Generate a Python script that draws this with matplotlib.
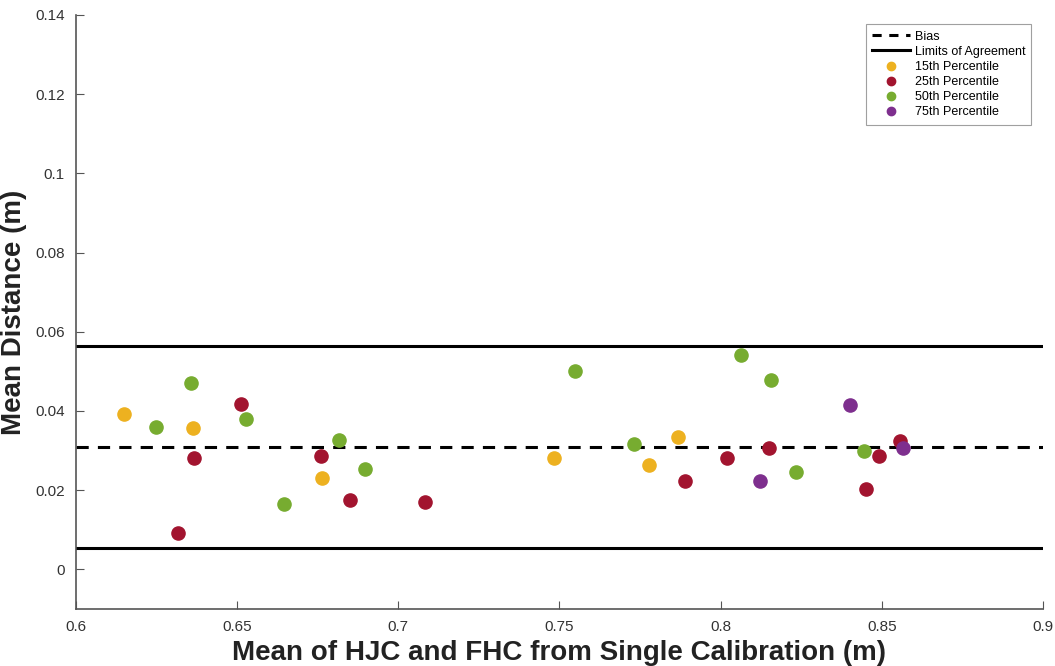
import matplotlib
matplotlib.use("Agg")
import matplotlib.pyplot as plt
from matplotlib.lines import Line2D

plt.rcParams['font.family'] = ['Liberation Sans', 'DejaVu Sans']

# Bland-Altman style data
x_p15 = [0.6149, 0.6363, 0.6763, 0.7483, 0.7778, 0.7867]
y_p15 = [0.0392, 0.0356, 0.0230, 0.0281, 0.0263, 0.0334]

x_p25 = [0.6512, 0.6366, 0.6316, 0.6760, 0.6850, 0.7083, 0.7889, 0.8019, 0.8150, 0.8451, 0.8491, 0.8556]
y_p25 = [0.0417, 0.0281, 0.0091, 0.0286, 0.0174, 0.0169, 0.0222, 0.0281, 0.0306, 0.0202, 0.0286, 0.0323]

x_p50 = [0.6248, 0.6357, 0.6527, 0.6645, 0.6816, 0.6896, 0.7548, 0.7731, 0.8063, 0.8156, 0.8234, 0.8444]
y_p50 = [0.0359, 0.0470, 0.0379, 0.0164, 0.0326, 0.0253, 0.0500, 0.0316, 0.0541, 0.0478, 0.0245, 0.0298]

x_p75 = [0.8401, 0.8122, 0.8565]
y_p75 = [0.0414, 0.0222, 0.0306]

bias = 0.0308
loa_upper = 0.0564
loa_lower = 0.0053

fig = plt.figure(figsize=(10.55, 6.66), dpi=100)
ax = fig.add_axes([0.072, 0.0856, 0.9166, 0.892])

ax.axhline(bias, color='black', ls=(0, (4, 3)), lw=2.2)
ax.axhline(loa_upper, color='black', ls='-', lw=2.2)
ax.axhline(loa_lower, color='black', ls='-', lw=2.2)

ms = 90
ax.scatter(x_p15, y_p15, s=ms, color='#EDB120', zorder=3)
ax.scatter(x_p25, y_p25, s=ms, color='#A2142F', zorder=3)
ax.scatter(x_p50, y_p50, s=ms, color='#77AC30', zorder=3)
ax.scatter(x_p75, y_p75, s=ms, color='#7E2F8E', zorder=3)

ax.set_xlim(0.6, 0.9)
ax.set_ylim(-0.01, 0.14)
ax.set_xticks([0.6, 0.65, 0.7, 0.75, 0.8, 0.85, 0.9])
ax.set_xticklabels(['0.6', '0.65', '0.7', '0.75', '0.8', '0.85', '0.9'])
ax.set_yticks([0, 0.02, 0.04, 0.06, 0.08, 0.1, 0.12, 0.14])
ax.set_yticklabels(['0', '0.02', '0.04', '0.06', '0.08', '0.1', '0.12', '0.14'])

for s in ['top', 'right']:
    ax.spines[s].set_visible(False)
for s in ['left', 'bottom']:
    ax.spines[s].set_color('#555555')
    ax.spines[s].set_linewidth(1.2)
ax.tick_params(direction='in', length=6, colors='#555555', labelsize=11,
               labelcolor='#333333', pad=8)

ax.set_xlabel('Mean of HJC and FHC from Single Calibration (m)', fontsize=20,
              fontweight='bold', color='#222222', labelpad=4)
ax.set_ylabel('Mean Distance (m)', fontsize=20, fontweight='bold',
              color='#222222', labelpad=6)

handles = [
    Line2D([], [], color='black', ls=(0, (3, 2.5)), lw=2.2),
    Line2D([], [], color='black', ls='-', lw=2.2),
    Line2D([], [], marker='o', ls='', color='#EDB120', ms=6),
    Line2D([], [], marker='o', ls='', color='#A2142F', ms=6),
    Line2D([], [], marker='o', ls='', color='#77AC30', ms=6),
    Line2D([], [], marker='o', ls='', color='#7E2F8E', ms=6),
]
labels = ['Bias', 'Limits of Agreement', '15th Percentile', '25th Percentile',
          '50th Percentile', '75th Percentile']
leg = ax.legend(handles, labels, loc='upper right', bbox_to_anchor=(0.9945, 0.9945),
                fontsize=9, frameon=True, fancybox=False, handlelength=3.0,
                labelspacing=0.25, borderpad=0.5, handletextpad=0.4)
leg.get_frame().set_edgecolor('#888888')
leg.get_frame().set_linewidth(0.8)

fig.savefig('out.png', dpi=100)
